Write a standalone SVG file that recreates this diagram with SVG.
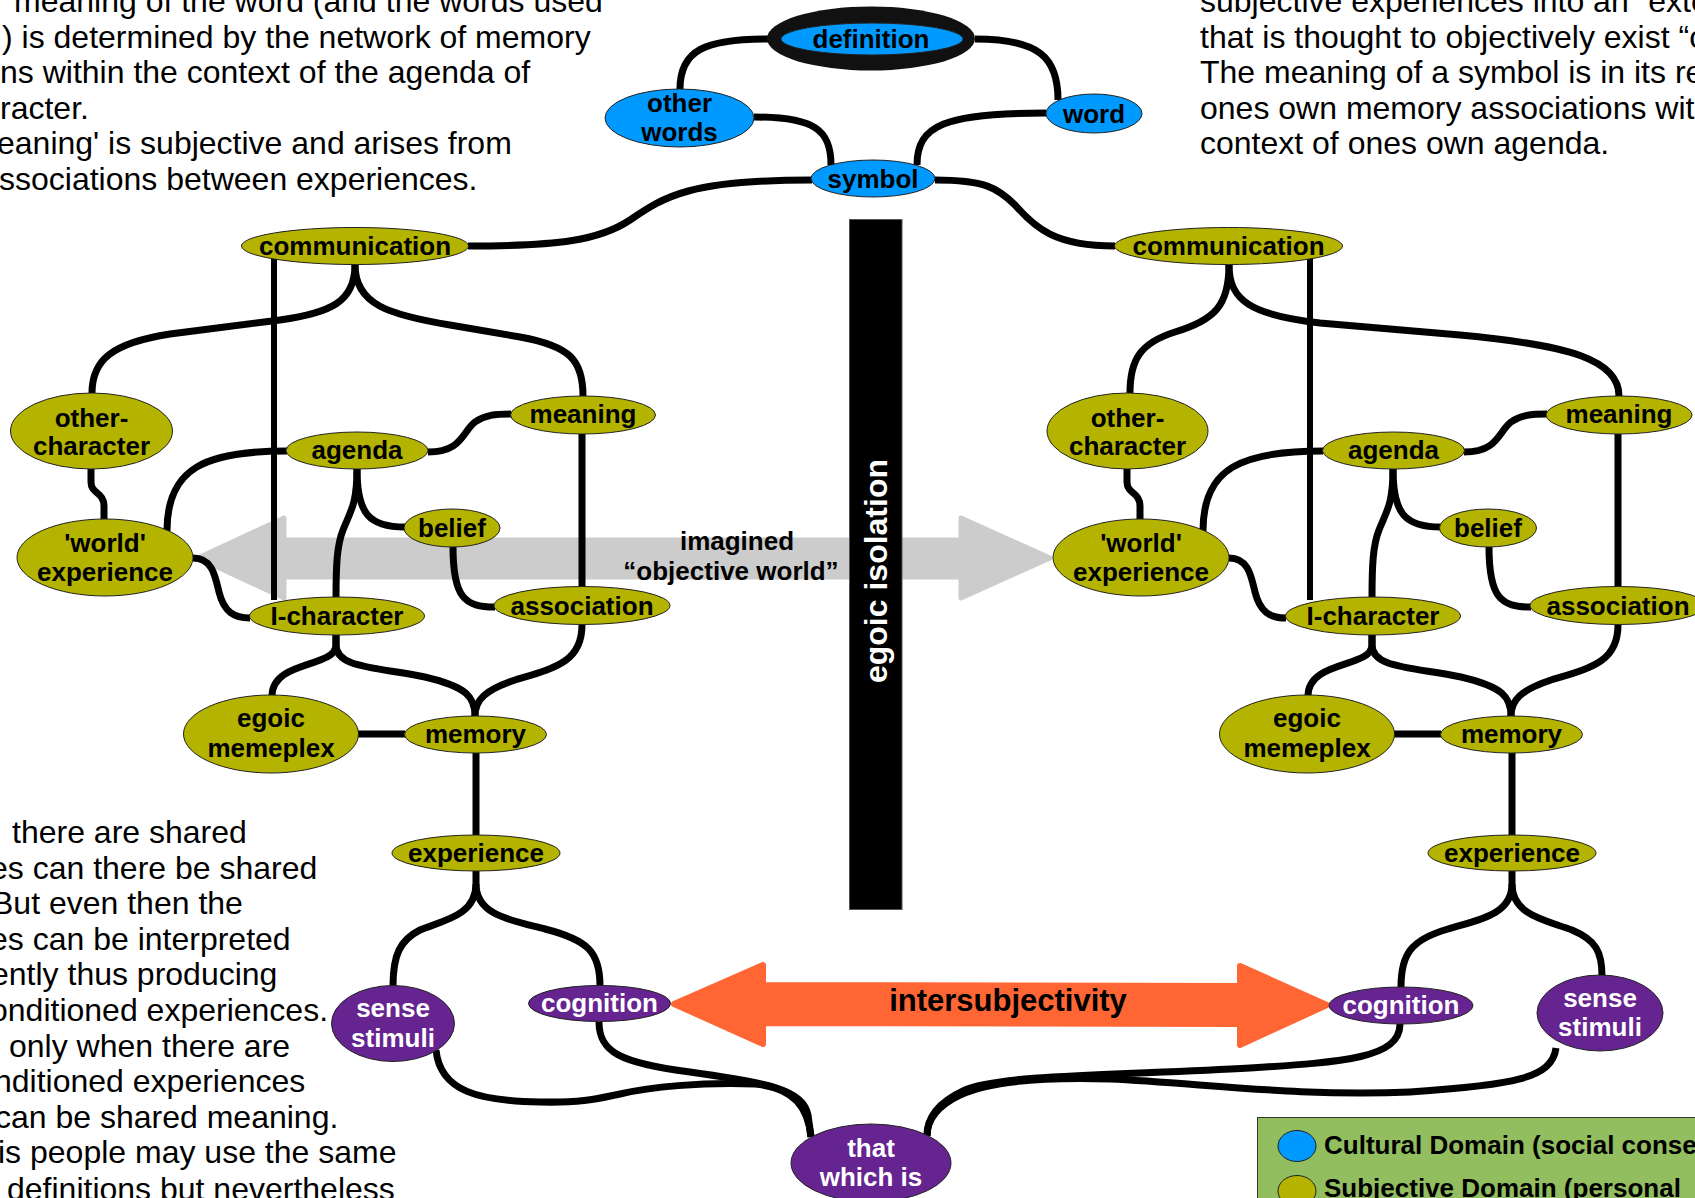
<svg xmlns="http://www.w3.org/2000/svg" width="1695" height="1198" viewBox="0 0 1695 1198">
<style>
.bg{fill:#ffffff}
.para{font-family:"Liberation Sans",Arial,sans-serif;font-size:32px;fill:#000}
.lbl{font-family:"Liberation Sans",Arial,sans-serif;font-size:26px;font-weight:bold;text-anchor:middle;fill:#000}
.wl{fill:#fff}
.c{fill:#0099ff;stroke:#222;stroke-width:1}
.s{fill:#b3b300;stroke:#222;stroke-width:1}
.p{fill:#662490;stroke:#222;stroke-width:1}
.ln{fill:none;stroke:#000;stroke-width:7;stroke-linecap:butt;stroke-linejoin:round}
.thin{stroke-width:6}
</style>
<rect class="bg" x="0" y="0" width="1695" height="1198"/>

<!-- paragraph texts -->
<g id="text-top-left" class="para">
<text x="14" y="12">meaning of the word (and the words used</text>
<text x="2" y="47.5">) is determined by the network of memory</text>
<text x="0" y="83">ns within the context of the agenda of</text>
<text x="0" y="118.5">racter.</text>
<text x="-3" y="154">eaning' is subjective and arises from</text>
<text x="-1" y="189.5">ssociations between experiences.</text>
</g>
<g id="text-top-right" class="para">
<text x="1200" y="12">subjective experiences into an “exte</text>
<text x="1200" y="47.5">that is thought to objectively exist “o</text>
<text x="1200" y="83">The meaning of a symbol is in its re</text>
<text x="1200" y="118.5">ones own memory associations wit</text>
<text x="1200" y="154">context of ones own agenda.</text>
</g>
<g id="text-bottom-left" class="para">
<text x="12" y="843">there are shared</text>
<text x="-10" y="878.6">es can there be shared</text>
<text x="-8" y="914.2">But even then the</text>
<text x="-10" y="949.8">es can be interpreted</text>
<text x="-9" y="985.4">ently thus producing</text>
<text x="-10" y="1021">onditioned experiences.</text>
<text x="9" y="1056.6">only when there are</text>
<text x="-6" y="1092.2">nditioned experiences</text>
<text x="-5" y="1127.8">can be shared meaning.</text>
<text x="-2" y="1163.4">is people may use the same</text>
<text x="7" y="1200">definitions but nevertheless</text>
</g>

<!-- big arrows -->
<g id="imagined-world-arrow">
<polygon points="198,558 284,518 284,540 961,540 961,518 1050,558 961,598 961,577 284,577 284,598" fill="#cccccc" stroke="#cccccc" stroke-width="5" stroke-linejoin="round"/>
</g>
<g id="intersubjectivity-arrow">
<polygon points="674,1004 763,965 763,985 1240,986 1240,966 1327,1005 1240,1045 1240,1024 763,1023 763,1044" fill="#ff6633" stroke="#ff6633" stroke-width="6" stroke-linejoin="round"/>
</g>

<!-- connectors -->
<g id="connectors" class="ln">
<!-- top cultural -->
<path d="M768,39 C705,39 680,50 680,89"/>
<path d="M975,39 C1040,39 1058,58 1058,100"/>
<path d="M754,117 C815,117 831,130 831,165"/>
<path d="M1046,113 C945,113 917,125 917,165"/>
<path d="M812,180 C690,180 665,196 630,220 C600,240 560,246 468,246"/>
<path d="M935,180 C985,180 998,188 1015,205 C1035,228 1055,246 1115,246"/>
<!-- left cluster -->
<path class="thin" d="M274,259 L274,600"/>
<path d="M355,265 C355,302 330,313 280,320 L170,334 C112,343 92,360 92,393"/>
<path d="M355,265 C355,305 390,315 450,325 L520,337 C570,346 583,360 583,396"/>
<path d="M91,469 L91,482 C91,494 104,492 104,506 L104,520"/>
<path d="M287,451 C205,451 167,468 167,531"/>
<path d="M428,452 C462,452 462,432 475,422 C485,415 495,414 511,414"/>
<path d="M357,469 C357,515 370,527 405,527"/>
<path d="M357,469 C357,505 350,512 343,530 C337,545 336,565 336,598"/>
<path d="M193,558 C212,558 215,575 219,592 C224,612 234,618 250,618"/>
<path d="M582,434 L582,587"/>
<path d="M453,547 C453,598 465,607 495,607"/>
<path d="M336,635 L336,645 C336,668 272,660 272,696"/>
<path d="M336,635 L336,645 C336,668 375,667 425,677 C467,687 475,697 475,716"/>
<path d="M582,625 C582,662 555,668 515,680 C485,690 475,700 475,716"/>
<path d="M358,734 L405,734"/>
<path d="M476,753 L476,835"/>
<path d="M476,871 L476,884 C476,915 445,920 420,930 C400,940 393,955 393,986"/>
<path d="M476,884 C476,915 510,920 545,929 C588,940 600,952 600,986"/>
<!-- right cluster -->
<path class="thin" d="M1310,258 L1310,600"/>
<path d="M1229,265 C1229,305 1215,320 1175,332 C1140,343 1130,360 1130,393"/>
<path d="M1229,265 C1229,300 1250,315 1320,323 L1460,335 C1570,345 1619,360 1619,396"/>
<path d="M1127,469 L1127,482 C1127,494 1140,492 1140,506 L1140,520"/>
<path d="M1323,451 C1241,451 1203,468 1203,531"/>
<path d="M1464,452 C1498,452 1498,432 1511,422 C1521,415 1531,414 1547,414"/>
<path d="M1393,469 C1393,515 1406,527 1441,527"/>
<path d="M1393,469 C1393,505 1386,512 1379,530 C1373,545 1372,565 1372,598"/>
<path d="M1229,558 C1248,558 1251,575 1255,592 C1260,612 1270,618 1286,618"/>
<path d="M1618,434 L1618,587"/>
<path d="M1489,547 C1489,598 1501,607 1531,607"/>
<path d="M1372,635 L1372,645 C1372,668 1308,660 1308,696"/>
<path d="M1372,635 L1372,645 C1372,668 1411,667 1461,677 C1503,687 1511,697 1511,716"/>
<path d="M1618,625 C1618,662 1591,668 1551,680 C1521,690 1511,700 1511,716"/>
<path d="M1394,734 L1441,734"/>
<path d="M1512,753 L1512,835"/>
<path d="M1512,871 L1512,884 C1512,915 1478,920 1448,929 C1410,940 1401,955 1401,987"/>
<path d="M1512,884 C1512,915 1545,920 1572,930 C1596,940 1602,952 1602,976"/>
<!-- bottom -->
<path d="M599,1022 C599,1052 620,1063 690,1072 C770,1083 803,1090 808,1115 L811,1137"/>
<path d="M436,1050 C440,1092 480,1101 540,1102 C585,1103 600,1098 620,1094 C650,1087 700,1082 755,1084 C795,1088 808,1108 811,1137"/>
<path d="M1400,1024 C1400,1058 1345,1062 1250,1068 C1130,1075 1000,1074 965,1090 C937,1103 927,1118 927,1136"/>
<path d="M1556,1048 C1552,1078 1515,1085 1410,1092 C1300,1097 1200,1083 1110,1079 C1010,1076 975,1088 960,1095 C937,1106 927,1120 927,1136"/>
</g>

<!-- egoic isolation bar -->
<g id="egoic-isolation">
<rect x="849.5" y="219.5" width="52.5" height="690" fill="#000" stroke="#555" stroke-width="1"/>
<text class="lbl wl" font-size="32" transform="translate(887,571) rotate(-90)" style="font-size:32px">egoic isolation</text>
</g>

<g id="imagined-label" class="lbl">
<text x="737" y="550">imagined</text>
<text x="731" y="580">“objective world”</text>
</g>
<g id="intersubjectivity-label">
<text class="lbl" x="1008" y="1011" style="font-size:31px">intersubjectivity</text>
</g>

<!-- cultural nodes -->
<g id="node-definition">
<ellipse cx="871" cy="38.5" rx="104" ry="32" fill="#111"/>
<ellipse class="c" cx="872" cy="39" rx="91" ry="16"/>
<text class="lbl" x="871" y="48">definition</text>
</g>
<g id="node-other-words">
<ellipse class="c" cx="679.5" cy="118" rx="74.5" ry="29"/>
<text class="lbl" x="679.5" y="112">other</text>
<text class="lbl" x="679.5" y="141">words</text>
</g>
<g id="node-word">
<ellipse class="c" cx="1094" cy="113.5" rx="48" ry="19.5"/>
<text class="lbl" x="1094" y="122.5">word</text>
</g>
<g id="node-symbol">
<ellipse class="c" cx="873" cy="178.5" rx="62" ry="18.5"/>
<text class="lbl" x="873" y="187.5">symbol</text>
</g>

<!-- left cluster nodes -->
<g id="node-communication-left">
<ellipse class="s" cx="355" cy="246" rx="113.5" ry="18.5"/>
<text class="lbl" x="355" y="255">communication</text>
</g>
<g id="node-other-character-left">
<ellipse class="s" cx="91.5" cy="431" rx="81" ry="38"/>
<text class="lbl" x="91.5" y="426.5">other-</text>
<text class="lbl" x="91.5" y="455">character</text>
</g>
<g id="node-meaning-left">
<ellipse class="s" cx="583" cy="415" rx="72.5" ry="19"/>
<text class="lbl" x="583" y="423">meaning</text>
</g>
<g id="node-agenda-left">
<ellipse class="s" cx="357" cy="450.5" rx="71" ry="18.5"/>
<text class="lbl" x="357" y="459">agenda</text>
</g>
<g id="node-belief-left">
<ellipse class="s" cx="452" cy="528" rx="48" ry="19"/>
<text class="lbl" x="452" y="537">belief</text>
</g>
<g id="node-world-experience-left">
<ellipse class="s" cx="105" cy="557.5" rx="88" ry="38.5"/>
<text class="lbl" x="105" y="551.5">'world'</text>
<text class="lbl" x="105" y="580.5">experience</text>
</g>
<g id="node-i-character-left">
<ellipse class="s" cx="337" cy="616" rx="87.5" ry="19"/>
<text class="lbl" x="337" y="625">I-character</text>
</g>
<g id="node-association-left">
<ellipse class="s" cx="582" cy="605.5" rx="88" ry="19"/>
<text class="lbl" x="582" y="614.5">association</text>
</g>
<g id="node-egoic-memeplex-left">
<ellipse class="s" cx="271" cy="734" rx="87.5" ry="39"/>
<text class="lbl" x="271" y="727">egoic</text>
<text class="lbl" x="271" y="756.5">memeplex</text>
</g>
<g id="node-memory-left">
<ellipse class="s" cx="475.5" cy="734.5" rx="71" ry="18.5"/>
<text class="lbl" x="475.5" y="743">memory</text>
</g>
<g id="node-experience-left">
<ellipse class="s" cx="476" cy="853" rx="84" ry="18"/>
<text class="lbl" x="476" y="862">experience</text>
</g>
<g id="node-sense-stimuli-left">
<ellipse class="p" cx="393" cy="1023.5" rx="61.5" ry="38"/>
<text class="lbl wl" x="393" y="1017">sense</text>
<text class="lbl wl" x="393" y="1046.5">stimuli</text>
</g>
<g id="node-cognition-left">
<ellipse class="p" cx="599.5" cy="1003.5" rx="71" ry="18"/>
<text class="lbl wl" x="599.5" y="1012">cognition</text>
</g>

<!-- right cluster nodes -->
<g id="node-communication-right">
<ellipse class="s" cx="1228.5" cy="246" rx="114" ry="18.5"/>
<text class="lbl" x="1228.5" y="255">communication</text>
</g>
<g id="node-other-character-right">
<ellipse class="s" cx="1127.5" cy="431" rx="80.5" ry="38"/>
<text class="lbl" x="1127.5" y="426.5">other-</text>
<text class="lbl" x="1127.5" y="455">character</text>
</g>
<g id="node-meaning-right">
<ellipse class="s" cx="1619" cy="415" rx="73" ry="19"/>
<text class="lbl" x="1619" y="423">meaning</text>
</g>
<g id="node-agenda-right">
<ellipse class="s" cx="1393.5" cy="450.5" rx="71" ry="18.5"/>
<text class="lbl" x="1393.5" y="459">agenda</text>
</g>
<g id="node-belief-right">
<ellipse class="s" cx="1488" cy="528" rx="48.5" ry="19"/>
<text class="lbl" x="1488" y="537">belief</text>
</g>
<g id="node-world-experience-right">
<ellipse class="s" cx="1141" cy="557.5" rx="88" ry="38.5"/>
<text class="lbl" x="1141" y="551.5">'world'</text>
<text class="lbl" x="1141" y="580.5">experience</text>
</g>
<g id="node-i-character-right">
<ellipse class="s" cx="1373" cy="616" rx="87.5" ry="19"/>
<text class="lbl" x="1373" y="625">I-character</text>
</g>
<g id="node-association-right">
<ellipse class="s" cx="1618" cy="605.5" rx="88" ry="19"/>
<text class="lbl" x="1618" y="614.5">association</text>
</g>
<g id="node-egoic-memeplex-right">
<ellipse class="s" cx="1307" cy="734" rx="87.5" ry="39"/>
<text class="lbl" x="1307" y="727">egoic</text>
<text class="lbl" x="1307" y="756.5">memeplex</text>
</g>
<g id="node-memory-right">
<ellipse class="s" cx="1511.5" cy="734.5" rx="71" ry="18.5"/>
<text class="lbl" x="1511.5" y="743">memory</text>
</g>
<g id="node-experience-right">
<ellipse class="s" cx="1512" cy="853" rx="84" ry="18"/>
<text class="lbl" x="1512" y="862">experience</text>
</g>
<g id="node-cognition-right">
<ellipse class="p" cx="1401" cy="1005.5" rx="72" ry="18.5"/>
<text class="lbl wl" x="1401" y="1014">cognition</text>
</g>
<g id="node-sense-stimuli-right">
<ellipse class="p" cx="1600" cy="1013" rx="63" ry="38"/>
<text class="lbl wl" x="1600" y="1006.5">sense</text>
<text class="lbl wl" x="1600" y="1036">stimuli</text>
</g>

<g id="node-that-which-is">
<ellipse class="p" cx="871" cy="1163" rx="80" ry="39"/>
<text class="lbl wl" x="871" y="1157">that</text>
<text class="lbl wl" x="871" y="1185.5">which is</text>
</g>

<!-- legend -->
<g id="legend">
<rect x="1257.5" y="1117.5" width="460" height="100" fill="#93be5f" stroke="#333" stroke-width="1"/>
<ellipse class="c" cx="1297" cy="1146" rx="19" ry="15.5"/>
<ellipse class="s" cx="1297" cy="1191" rx="19" ry="15.5"/>
<text class="lbl" x="1324" y="1154" style="text-anchor:start">Cultural Domain (social conse</text>
<text class="lbl" x="1324" y="1197" style="text-anchor:start">Subjective Domain (personal</text>
</g>
</svg>
